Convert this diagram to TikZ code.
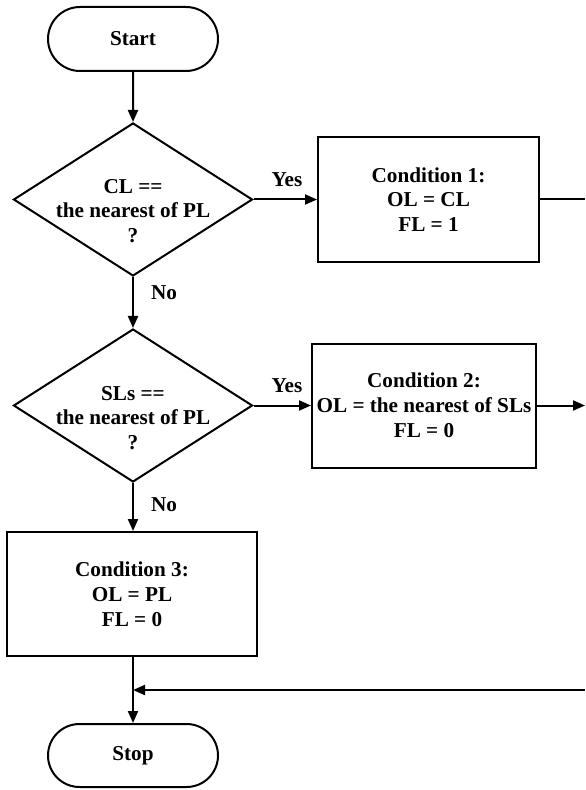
\documentclass[tikz,border=0pt]{standalone}
\usepackage{fontspec}
\setmainfont{Liberation Serif}
\usetikzlibrary{shapes.geometric,shapes.misc,arrows.meta}
\begin{document}
\begin{tikzpicture}[x=0.5pt,y=-0.5pt,
  every node/.style={font=\bfseries\fontsize{10.6}{12.4}\selectfont},
  term/.style={draw, line width=1pt, rounded rectangle, minimum width=85pt, minimum height=32pt, inner sep=0pt},
  dia/.style={draw, line width=1pt, diamond, minimum width=119.5pt, minimum height=76.5pt, inner sep=0pt},
  procbox/.style={draw, line width=1pt, rectangle, inner sep=0pt, align=center},
  lbl/.style={inner sep=0pt, align=center},
  conn/.style={line width=1pt, -{Triangle[length=6pt,width=5pt]}},
  plain/.style={line width=1pt}
]
\useasboundingbox (0,0) rectangle (585,790);

\node[term] (start) at (133,39) {Start};

\node[dia] (d1) at (133,199.5) {};
\node[lbl] (t1) at (133,211) {CL ==\\the nearest of PL\\?};

\node[procbox, minimum width=110.5pt, minimum height=62.5pt] (c1) at (428.5,199.5) {Condition 1:\\OL = CL\\FL = 1};

\node[dia] (d2) at (133,405.5) {};
\node[lbl] (t2) at (133,418) {SLs ==\\the nearest of PL\\?};

\node[procbox, minimum width=112pt, minimum height=62pt] (c2) at (424,405.5) {Condition 2:\\OL = the nearest of SLs\\FL = 0};

\node[procbox, minimum width=125pt, minimum height=62pt] (c3) at (132,594) {Condition 3:\\OL = PL\\FL = 0};

\node[term, minimum height=31.5pt] (stop) at (133,755.5) {Stop};

\node[lbl] (yes1) at (287,180) {Yes};
\node[lbl] (yes2) at (287,386) {Yes};
\node[lbl] (no1) at (164,293) {No};
\node[lbl] (no2) at (164,505) {No};

\coordinate (e1) at (585,199.5);
\coordinate (e2) at (585,405.5);
\coordinate (e3) at (585,690);
\coordinate (j) at (133,690);

\draw[conn] (start) -- (d1);
\draw[conn] (d1) -- (c1);
\draw[plain] (c1.east) -- (e1);
\draw[conn] (d1) -- (d2);
\draw[conn] (d2) -- (c2);
\draw[conn] (c2.east) -- (e2);
\draw[conn] (d2.south) -- (d2.south |- c3.north);
\draw[conn] (c3.south -| stop.north) -- (stop.north);
\draw[conn] (e3) -- (j);
\end{tikzpicture}
\end{document}
